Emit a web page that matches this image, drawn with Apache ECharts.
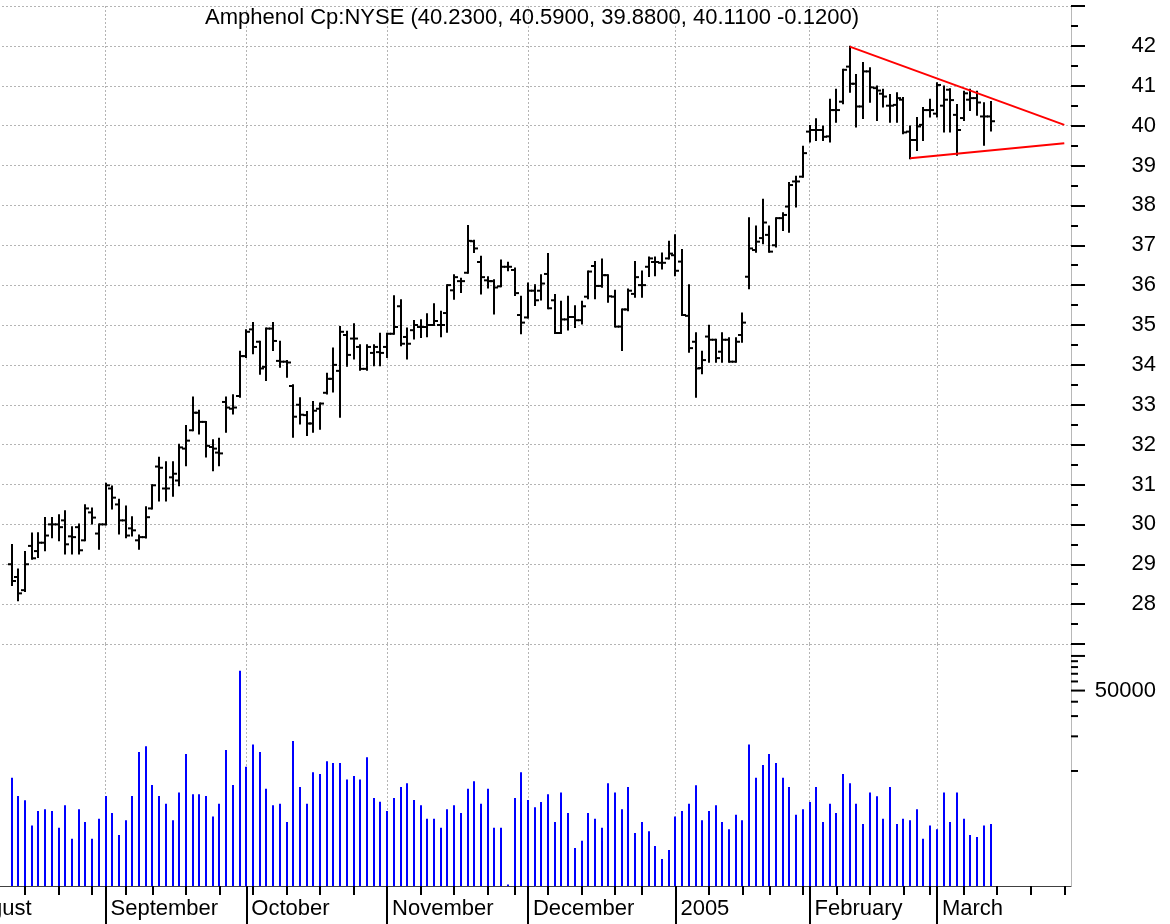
<!DOCTYPE html>
<html>
<head>
<meta charset="utf-8">
<title>Amphenol Cp:NYSE</title>
<script src="https://cdn.jsdelivr.net/npm/echarts@6/dist/echarts.min.js"></script>
<style>
  html, body { margin: 0; padding: 0; background: #fff; }
  #chart { width: 1170px; height: 924px; }
</style>
</head>
<body>
<div id="chart"></div>
<script>
var FONT = '"Liberation Sans", Arial, sans-serif';

// axis calendar: weekdays from firstDay to lastDay, minus exchange holidays
var firstDay = '2004-08-02';
var lastDay = '2005-03-29';
var holidays = ['2004-09-06', '2004-11-25', '2004-12-24', '2005-01-17', '2005-02-21'];
var firstBar = '2004-08-12';
var monthNames = ['January', 'February', 'March', 'April', 'May', 'June', 'July',
  'August', 'September', 'October', 'November', 'December'];

// daily bars, one entry per trading day from firstBar
var opens = [
  29.00, 28.68, 28.35, 29.46, 29.33, 29.54, 30.00, 30.00, 30.10, 29.70, 29.93, 29.60, 30.30, 29.77,
  30.00, 30.90, 30.50, 30.10, 29.90, 29.60, 29.68, 30.40, 31.45, 30.90, 31.18, 31.10, 31.90, 32.36, 32.80, 32.57, 31.94, 31.80, 33.07, 32.90, 33.22,
  34.22, 34.89, 34.58, 33.95, 34.91, 34.10, 34.08, 33.47, 33.00, 32.74, 32.53, 32.90, 33.30, 33.65, 33.85, 34.75, 34.66, 34.45, 33.90, 34.30, 34.32,
  34.45, 34.78, 35.47, 34.70, 34.87, 34.95, 34.95, 35.00, 35.00, 35.30, 35.87, 36.10, 36.31, 37.10, 36.58, 36.12, 36.10, 35.97, 36.46, 36.38, 35.25,
  35.19, 35.86, 35.86, 36.28, 35.62, 34.80, 35.14, 35.20, 35.12, 35.71, 36.48, 35.98, 36.25, 35.71, 34.96, 35.39, 35.78, 36.00, 36.46, 36.58, 36.56, 36.67,
  36.75, 36.59, 35.23, 34.58, 33.92, 34.71, 34.63, 34.33, 34.63, 34.08, 34.75, 36.21, 36.88, 37.18, 37.26, 37.00, 37.68, 37.97, 38.60, 38.72,
  39.85, 39.89, 39.89, 39.73, 40.39, 40.60, 41.48, 41.05, 40.48, 41.36, 40.94, 40.80, 40.50, 40.52, 40.65, 39.85, 39.64, 40.02, 40.39,
  40.30, 40.50, 40.90, 40.27, 40.19, 40.65, 40.69, 40.23, 40.23
];
var highs = [
  29.48, 28.87, 29.31, 29.77, 29.78, 30.16, 30.16, 30.23, 30.33, 29.93, 30.00, 30.48, 30.40, 30.00,
  31.02, 30.95, 30.62, 30.45, 30.18, 29.72, 30.43, 30.98, 31.67, 31.56, 31.56, 32.00, 32.47, 33.18, 32.85, 32.57, 32.11, 32.15, 33.18, 33.24, 34.33,
  34.87, 35.05, 34.58, 34.91, 35.05, 34.58, 34.10, 33.49, 33.16, 32.82, 33.07, 33.03, 33.78, 34.41, 34.95, 34.83, 35.02, 34.49, 34.49, 34.49, 34.78,
  34.78, 35.72, 35.62, 34.91, 35.10, 35.12, 35.27, 35.52, 35.33, 36.00, 36.25, 36.16, 37.48, 37.11, 36.71, 36.20, 36.12, 36.62, 36.56, 36.42, 35.71,
  36.04, 36.00, 36.25, 36.78, 35.75, 35.58, 35.71, 35.47, 35.58, 36.34, 36.58, 36.64, 36.25, 35.86, 35.39, 35.89, 36.58, 36.34, 36.69, 36.69, 36.79, 37.09,
  37.25, 36.88, 36.00, 34.79, 34.33, 34.98, 34.63, 34.79, 34.67, 34.67, 35.29, 37.68, 37.47, 38.14, 37.47, 37.68, 37.80, 38.56, 38.72, 39.47,
  39.99, 40.16, 39.98, 40.65, 40.90, 41.40, 41.98, 41.27, 41.57, 41.44, 40.98, 40.90, 40.77, 40.81, 40.69, 39.98, 40.19, 40.44, 40.65,
  41.06, 40.98, 40.91, 40.52, 40.85, 40.90, 40.85, 40.56, 40.59
];
var lows = [
  28.48, 28.10, 28.33, 29.14, 29.18, 29.35, 29.68, 29.60, 29.27, 29.27, 29.27, 29.60, 30.02, 29.39,
  30.00, 30.40, 29.77, 29.68, 29.72, 29.39, 29.67, 30.40, 30.60, 30.60, 30.72, 30.98, 31.48, 32.36, 32.28, 31.70, 31.36, 31.48, 32.32, 32.78, 33.20,
  34.20, 34.29, 33.78, 33.62, 34.37, 33.95, 33.70, 32.20, 32.53, 32.24, 32.32, 32.40, 33.28, 33.33, 32.70, 33.98, 34.16, 33.88, 33.88, 33.99, 33.99,
  34.20, 34.78, 34.49, 34.16, 34.66, 34.70, 34.72, 35.00, 34.72, 34.83, 35.66, 35.83, 36.31, 36.83, 35.79, 35.94, 35.29, 35.97, 36.37, 35.75, 34.79,
  35.19, 35.50, 35.64, 35.42, 34.80, 34.80, 34.89, 34.95, 35.04, 35.67, 35.67, 35.96, 35.58, 34.96, 34.37, 35.37, 35.71, 35.71, 36.23, 36.25, 36.42, 36.67,
  36.25, 35.25, 34.33, 33.20, 33.79, 34.08, 34.08, 34.08, 34.08, 34.08, 34.58, 35.92, 36.84, 37.05, 36.84, 36.97, 37.38, 37.34, 37.97, 38.72,
  39.60, 39.64, 39.64, 39.60, 40.10, 40.56, 40.85, 39.98, 40.19, 40.60, 40.14, 40.48, 40.10, 40.10, 39.81, 39.18, 39.39, 39.64, 40.23,
  40.23, 39.85, 39.85, 39.27, 40.14, 40.39, 40.27, 39.52, 39.88
];
var closes = [
  28.58, 28.27, 29.00, 29.15, 29.54, 29.72, 30.00, 29.93, 29.50, 29.68, 29.35, 30.40, 30.17, 30.00,
  30.98, 30.67, 30.10, 29.72, 29.85, 29.68, 30.18, 30.98, 31.42, 30.90, 31.27, 31.93, 32.10, 32.80, 32.57, 31.97, 31.90, 31.78, 32.93, 32.93, 34.22,
  34.83, 34.45, 33.91, 34.91, 34.60, 34.08, 34.06, 32.70, 32.75, 32.53, 32.85, 33.03, 33.65, 34.00, 34.83, 34.25, 34.66, 33.90, 34.45, 34.45, 34.30,
  34.78, 34.95, 34.53, 34.53, 35.00, 34.95, 35.00, 35.10, 35.00, 36.00, 36.20, 36.10, 37.11, 36.92, 36.20, 36.10, 35.94, 36.46, 36.46, 35.80, 35.06,
  35.86, 35.62, 36.04, 35.42, 34.80, 35.14, 35.20, 35.12, 35.47, 36.34, 35.98, 36.25, 35.72, 34.96, 35.39, 35.86, 36.20, 36.00, 36.67, 36.58, 36.56, 36.79,
  36.36, 35.25, 34.42, 33.91, 34.12, 34.63, 34.17, 34.63, 34.08, 34.58, 35.06, 36.92, 37.09, 37.57, 36.84, 37.68, 37.76, 38.51, 38.60, 39.31,
  39.89, 39.89, 39.72, 40.39, 40.39, 41.40, 41.05, 40.48, 41.36, 40.96, 40.88, 40.73, 40.50, 40.69, 39.83, 39.64, 39.98, 40.39, 40.39,
  41.02, 40.65, 40.64, 39.89, 40.81, 40.69, 40.58, 40.23, 40.11
];
var volumes = [
  8750, 6070, 5560, 3350, 4490, 4640, 4490, 3210, 5030, 2580, 4640, 3600, 2580, 3850,
  6070, 4310, 2770, 3720, 6070, 14600, 16400, 7550, 6070, 5200, 3720, 6490, 14060, 6270, 6270, 6070, 4010, 5200, 15230, 7550, 74500,
  10900, 16950, 14600, 7010, 5030, 5200, 3600, 18240, 7260, 5200, 9760, 9420, 12130, 11740, 11740, 8410, 9060, 8410, 13150, 5820, 5400,
  4490, 5820, 7260, 7810, 5590, 5030, 3850, 3850, 3210, 4640, 5030, 4310, 7010, 8130, 5200, 7010, 3210, 3210, 1030, 5820, 9760,
  5590, 4830, 5370, 6270, 3600, 6490, 4310, 2140, 2480, 4310, 3850, 3210, 7810, 6490, 4640, 7260, 2890, 3600, 2990, 2230, 1720, 2060,
  4010, 4490, 5200, 7500, 3720, 4490, 5030, 3600, 3110, 4170, 3720, 16950, 8750, 11270, 14060, 11740, 8750, 7260, 4170, 4640,
  5370, 7260, 3600, 5200, 4310, 9420, 7810, 5200, 3460, 6490, 6030, 3850, 7260, 3460, 3850, 3720, 4640, 2580, 3350,
  3110, 6490, 3600, 6490, 3850, 2770, 2670, 3350, 3460
];

// triangle drawn over the February-March range
var trendHigh = [['2005-02-09', 41.98], ['2005-03-28', 40.02]];
var trendLow = [['2005-02-23', 39.18], ['2005-03-28', 39.56]];

// right axis ticks of the volume pane
var volTicks = [10000, 20000, 30000, 40000, 50000, 60000, 70000, 80000, 90000, 100000];
var volLongTicks = [50000, 100000];
var volTickLabels = { 50000: '50000' };

function tradingDays(from, to, skip) {
  var out = [];
  var d = new Date(from + 'T00:00:00Z');
  var end = new Date(to + 'T00:00:00Z');
  while (d <= end) {
    var s = d.toISOString().slice(0, 10);
    var wd = d.getUTCDay();
    if (wd !== 0 && wd !== 6 && skip.indexOf(s) < 0) out.push(s);
    d = new Date(d.getTime() + 86400000);
  }
  return out;
}

var dates = tradingDays(firstDay, lastDay, holidays);
var start = dates.indexOf(firstBar);

function weekday(s) { return new Date(s + 'T00:00:00Z').getUTCDay(); }
function isMonthStart(i) { return i === 0 || dates[i].slice(0, 7) !== dates[i - 1].slice(0, 7); }
function isWeekStart(i) { return i === 0 || weekday(dates[i]) <= weekday(dates[i - 1]); }
function monthLabel(value) {
  var m = +value.slice(5, 7);
  return m === 1 ? value.slice(0, 4) : monthNames[m - 1];
}

var ohlcData = opens.map(function (o, k) {
  return [start + k, o, highs[k], lows[k], closes[k]];
});
var volData = volumes.map(function (v, k) { return [start + k, v]; });
var volTickData = volTicks.map(function (v) { return [dates.length - 1, v]; });

var n = closes.length;
var chg = closes[n - 1] - closes[n - 2];
var titleText = 'Amphenol Cp:NYSE (' + opens[n - 1].toFixed(4) + ', ' + highs[n - 1].toFixed(4) + ', ' +
  lows[n - 1].toFixed(4) + ', ' + closes[n - 1].toFixed(4) + ' ' + chg.toFixed(4) + ')';

function renderOhlc(params, api) {
  var i = api.value(0);
  var pO = api.coord([i, api.value(1)]);
  var pH = api.coord([i, api.value(2)]);
  var pL = api.coord([i, api.value(3)]);
  var pC = api.coord([i, api.value(4)]);
  var x = Math.round(pO[0]);
  var st = { stroke: '#000', lineWidth: 2 };
  return {
    type: 'group',
    children: [
      { type: 'line', shape: { x1: x, y1: pH[1] - 1, x2: x, y2: pL[1] + 1 }, style: st },
      { type: 'line', shape: { x1: x - 4, y1: pO[1], x2: x, y2: pO[1] }, style: st },
      { type: 'line', shape: { x1: x, y1: pC[1], x2: x + 4, y2: pC[1] }, style: st }
    ]
  };
}

function renderVolume(params, api) {
  var i = api.value(0);
  var top = api.coord([i, api.value(1)]);
  var base = api.coord([i, 1000]);
  var x = Math.round(top[0]);
  return {
    type: 'rect',
    shape: { x: x - 1, y: top[1], width: 2, height: base[1] - top[1] },
    style: { fill: '#0000ff' }
  };
}

function renderVolTick(params, api) {
  var v = api.value(1);
  var p = api.coord([api.value(0), v]);
  var len = volLongTicks.indexOf(v) >= 0 ? 14 : 7;
  var kids = [{
    type: 'line',
    shape: { x1: p[0], y1: p[1], x2: p[0] + len, y2: p[1] },
    style: { stroke: '#000', lineWidth: 2 }
  }];
  if (volTickLabels[v]) {
    kids.push({
      type: 'text',
      style: {
        text: volTickLabels[v], x: p[0] + 85, y: p[1],
        align: 'right', verticalAlign: 'middle',
        fontSize: 22, fontFamily: FONT, fill: '#000'
      }
    });
  }
  return { type: 'group', children: kids };
}

var dotted = { color: '#b4b4b4', type: [2, 2], width: 1 };

var chart = echarts.init(document.getElementById('chart'));

var option = {
  animation: false,
  backgroundColor: '#fff',
  title: {
    text: titleText,
    left: 205,
    top: 7,
    padding: 0,
    textStyle: { fontSize: 22, fontWeight: 'normal', color: '#000', fontFamily: FONT }
  },
  grid: [
    { left: -42, right: 99, top: 6, height: 638, outerBoundsMode: 'none', containLabel: false },
    { left: -42, right: 99, top: 644, height: 242, outerBoundsMode: 'none', containLabel: false }
  ],
  xAxis: [
    {
      gridIndex: 0, type: 'category', data: dates, boundaryGap: false,
      axisLine: { show: false }, axisTick: { show: false }, axisLabel: { show: false },
      splitLine: { show: true, interval: isMonthStart, lineStyle: dotted }
    },
    {
      gridIndex: 1, type: 'category', data: dates, boundaryGap: false, position: 'bottom',
      axisLine: { show: true, lineStyle: { color: '#404040', width: 1 } },
      axisTick: { show: true, interval: isWeekStart, length: 9, lineStyle: { color: '#000', width: 2 } },
      axisLabel: { show: false },
      splitLine: { show: true, interval: isMonthStart, lineStyle: dotted }
    },
    {
      gridIndex: 1, type: 'category', data: dates, boundaryGap: false, position: 'bottom',
      axisLine: { show: false },
      axisTick: { show: true, interval: isMonthStart, length: 38, lineStyle: { color: '#000', width: 2 } },
      axisLabel: {
        show: true, interval: isMonthStart, formatter: monthLabel,
        align: 'left', padding: [0, 0, 0, 5], margin: 12,
        fontSize: 22, color: '#000', fontFamily: FONT
      },
      splitLine: { show: false }
    }
  ],
  yAxis: [
    {
      gridIndex: 0, type: 'value', position: 'right', min: 27, max: 43, interval: 1,
      axisLine: { show: true, lineStyle: { color: '#b8b8b8', width: 1 } },
      axisTick: { show: true, length: 14, lineStyle: { color: '#000', width: 2 } },
      minorTick: { show: true, splitNumber: 2, length: 7, lineStyle: { color: '#000', width: 2 } },
      axisLabel: {
        formatter: function (v) { return (v < 28 || v > 42) ? '' : String(v); },
        align: 'right', margin: 85, fontSize: 22, color: '#000', fontFamily: FONT
      },
      splitLine: { show: true, lineStyle: dotted }
    },
    {
      gridIndex: 1, type: 'log', logBase: 10, position: 'right', min: 1000, max: 127000,
      axisLine: { show: true, lineStyle: { color: '#b8b8b8', width: 1 } },
      axisTick: { show: false }, axisLabel: { show: false }, splitLine: { show: false }
    }
  ],
  series: [
    {
      name: 'price', type: 'custom', xAxisIndex: 0, yAxisIndex: 0,
      renderItem: renderOhlc, data: ohlcData, encode: { x: 0, y: [1, 2, 3, 4] }
    },
    {
      name: 'trendHigh', type: 'line', xAxisIndex: 0, yAxisIndex: 0, data: trendHigh,
      symbol: 'none', lineStyle: { color: '#ff0000', width: 2 }, z: 5
    },
    {
      name: 'trendLow', type: 'line', xAxisIndex: 0, yAxisIndex: 0, data: trendLow,
      symbol: 'none', lineStyle: { color: '#ff0000', width: 2 }, z: 5
    },
    {
      name: 'volume', type: 'custom', xAxisIndex: 1, yAxisIndex: 1,
      renderItem: renderVolume, data: volData, encode: { x: 0, y: 1 }
    },
    {
      name: 'volTicks', type: 'custom', xAxisIndex: 1, yAxisIndex: 1, clip: false,
      renderItem: renderVolTick, data: volTickData, encode: { x: 0, y: 1 }, silent: true
    }
  ]
};

chart.setOption(option);
</script>
</body>
</html>
